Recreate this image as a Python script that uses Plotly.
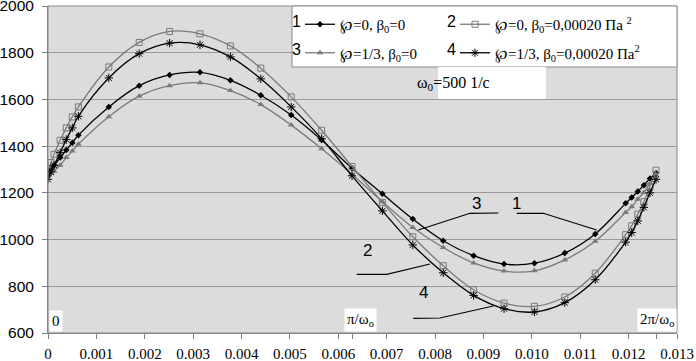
import plotly.graph_objects as go

# ---- data ----
x_vals = [0, 0.0000628, 0.0001257, 0.0002513, 0.0003770, 0.0005027, 0.0006283,
          0.0012566, 0.0018850, 0.0025133, 0.0031416, 0.0037699, 0.0043982,
          0.0050265, 0.0056549, 0.0062832, 0.0069115, 0.0075398, 0.0081681,
          0.0087965, 0.0094248, 0.0100531, 0.0106814, 0.0113097, 0.0119381,
          0.0120637, 0.0121894, 0.0123150, 0.0124407, 0.0125664]

s1 = [1285, 1302, 1318, 1351, 1383, 1415, 1447, 1568, 1659, 1705, 1716, 1682, 1618,
      1533, 1426, 1305, 1196, 1088, 995, 931, 895, 899, 942, 1024, 1155, 1180, 1206,
      1233, 1261, 1285]
s2 = [1297, 1330, 1365, 1425, 1478, 1525, 1568, 1739, 1844, 1891, 1881, 1829, 1734,
      1611, 1468, 1313, 1159, 1012, 888, 785, 728, 714, 754, 856, 1021, 1059, 1109,
      1162, 1228, 1297]
s3 = [1275, 1284, 1294, 1318, 1351, 1379, 1408, 1526, 1614, 1659, 1671, 1638, 1578,
      1490, 1389, 1280, 1162, 1052, 966, 900, 865, 866, 913, 993, 1116, 1140, 1173,
      1201, 1240, 1275]
s4 = [1258, 1290, 1318, 1372, 1428, 1478, 1528, 1692, 1796, 1841, 1834, 1782, 1688,
      1568, 1432, 1273, 1123, 977, 858, 761, 704, 690, 730, 828, 989, 1030, 1080,
      1138, 1200, 1258]

names = ["℘=0, β<sub>0</sub>=0",
         "℘=0, β<sub>0</sub>=0,00020 Па <sup>2</sup>",
         "℘=1/3, β<sub>0</sub>=0",
         "℘=1/3, β<sub>0</sub>=0,00020 Па<sup>2</sup>"]
numbers = ["1", "2", "3", "4"]

x_ticks = [0, 0.001, 0.002, 0.003, 0.004, 0.005, 0.006, 0.007, 0.008, 0.009,
           0.010, 0.011, 0.012, 0.013]
x_tick_text = ["0", "0.001", "0.002", "0.003", "0.004", "0.005", "0.006", "0.007",
               "0.008", "0.009", "0.010", "0.011", "0.012", "0.013"]
period_marks = [0.0062832, 0.0125664]

SERIF = "Liberation Serif, Times New Roman, serif"
SANS = "Liberation Sans, Arial, sans-serif"
BLACK = "#000000"
GRAY = "#7a7a7a"

# layout geometry (pixels)
W, H = 696, 361
ML, MR, MT, MB = 48, 19, 6, 28
PW, PH = W - ML - MR, H - MT - MB


def px_x(px):
    return (px - ML) / PW


def px_y(py):
    return 1 - (py - MT) / PH


fig = go.Figure()

series = [
    (s1, BLACK, dict(symbol="diamond", size=5, color=BLACK), "legend"),
    (s2, GRAY, dict(symbol="square-open", size=6, color=GRAY, line=dict(width=1)), "legend2"),
    (s3, GRAY, dict(symbol="triangle-up", size=6, color=GRAY), "legend"),
    (s4, BLACK, dict(symbol="asterisk-open", size=7, color=BLACK, line=dict(width=1, color=BLACK)), "legend2"),
]
for i, (ys, col, mk, lg) in enumerate(series):
    fig.add_trace(go.Scatter(
        x=x_vals, y=ys, name=names[i], mode="lines+markers",
        line=dict(color=col, width=1.3, shape="spline", smoothing=1.0),
        marker=mk, legend=lg, legendgroup="g" + str(i),
    ))

tv = x_ticks + period_marks
tt = x_tick_text + ["", ""]

fig.update_layout(
    width=W, height=H,
    margin=dict(l=ML, r=MR, t=MT, b=MB),
    paper_bgcolor="white",
    plot_bgcolor="#dcdcdc",
    showlegend=True,
    xaxis=dict(range=[0, 0.013], tickvals=tv, ticktext=tt, showgrid=False,
               zeroline=False, showline=True, linecolor="#7f7f7f", linewidth=1,
               ticks="outside", ticklen=5, tickcolor="#7f7f7f", automargin=False,
               ticklabeloverflow="allow", ticklabelstandoff=2,
               tickfont=dict(family=SERIF, size=15, color="black")),
    yaxis=dict(range=[600, 2000], dtick=200, tick0=600, showgrid=True,
               gridcolor="#9a9a9a", gridwidth=1, zeroline=False, showline=True,
               linecolor="#7f7f7f", linewidth=1, ticks="outside", ticklen=5,
               tickcolor="#7f7f7f", automargin=False, ticklabeloverflow="allow",
               ticklabelstandoff=5,
               tickfont=dict(family=SANS, size=15.5, color="black")),
    legend=dict(x=px_x(300), y=px_y(8), xanchor="left", yanchor="top",
                bgcolor="rgba(0,0,0,0)", borderwidth=0, tracegroupgap=6,
                itemwidth=30, font=dict(family=SERIF, size=15, color="black")),
    legend2=dict(x=px_x(455), y=px_y(8), xanchor="left", yanchor="top",
                 bgcolor="rgba(0,0,0,0)", borderwidth=0, tracegroupgap=6,
                 itemwidth=30, font=dict(family=SERIF, size=15, color="black")),
)

shapes = []
shapes.append(dict(type="rect", xref="paper", yref="paper", x0=0, x1=1, y0=0, y1=1,
                   line=dict(color="#8a8a8a", width=1), layer="above"))
# legend box
shapes.append(dict(type="rect", xref="paper", yref="paper", x0=px_x(292), x1=1,
                   y0=px_y(67), y1=1, fillcolor="white",
                   line=dict(color="#8a8a8a", width=1), layer="above"))
# omega box
shapes.append(dict(type="rect", xref="paper", yref="paper", x0=px_x(438), x1=px_x(546),
                   y0=px_y(99), y1=px_y(67), fillcolor="white",
                   line=dict(width=0), layer="above"))
# leader lines for curve labels (pixel positions of the reference)
leaders_px = [
    [(418.3, 230), (470, 213.3), (498.3, 213)],
    [(516.7, 213.3), (543.3, 213.3), (596.7, 230)],
    [(356.7, 274.3), (386.7, 274.3), (430, 264)],
    [(413.3, 318.3), (440, 318), (493.3, 306)],
]
for pts in leaders_px:
    path = "M " + " L ".join(f"{px_x(px):.5f},{px_y(py):.5f}" for px, py in pts)
    shapes.append(dict(type="path", xref="paper", yref="paper", path=path,
                       line=dict(color="black", width=1.2), layer="above"))
fig.update_layout(shapes=shapes)

ann = []
for txt, (ax, ay) in zip(["3", "1", "2", "4"],
                         [(482.7, 203), (523, 203), (367.3, 262), (423.3, 304)]):
    ann.append(dict(x=px_x(ax), y=px_y(ay), xref="paper", yref="paper", text=txt,
                    showarrow=False, font=dict(family=SANS, size=17, color="black")))
# legend numbers
for txt, (lx, ly) in zip(numbers, [(303, 21.7), (458, 21.7), (303, 50), (458, 50)]):
    ann.append(dict(x=px_x(lx), y=px_y(ly), xref="paper", yref="paper", text=txt,
                    showarrow=False, xanchor="right", yanchor="middle",
                    font=dict(family=SANS, size=16, color="black")))
ann.append(dict(x=px_x(492), y=px_y(83.5), xref="paper", yref="paper",
                text="ω<sub>0</sub>=500 1/с", showarrow=False, yanchor="middle",
                font=dict(family=SERIF, size=16, color="black")))
ann.append(dict(x=0, y=0, xref="paper", yref="paper", text="0", showarrow=False,
                xanchor="left", yanchor="bottom", bgcolor="white", borderpad=2,
                xshift=1, yshift=1, font=dict(family=SERIF, size=15, color="black")))
ann.append(dict(x=px_x(360), y=px_y(320), xref="paper", yref="paper",
                text="π/ω<sub>o</sub>", showarrow=False, bgcolor="white", borderpad=2,
                yanchor="middle", font=dict(family=SERIF, size=15, color="black")))
ann.append(dict(x=1, y=px_y(320), xref="paper", yref="paper", text="2π/ω<sub>o</sub>",
                showarrow=False, xanchor="right", yanchor="middle", bgcolor="white",
                borderpad=2, font=dict(family=SERIF, size=15, color="black")))
fig.update_layout(annotations=ann)

fig.write_html("out.html",
               config={"displayModeBar": False},
               post_script="document.body.style.margin='0px';"
                           "document.body.style.overflow='hidden';")
